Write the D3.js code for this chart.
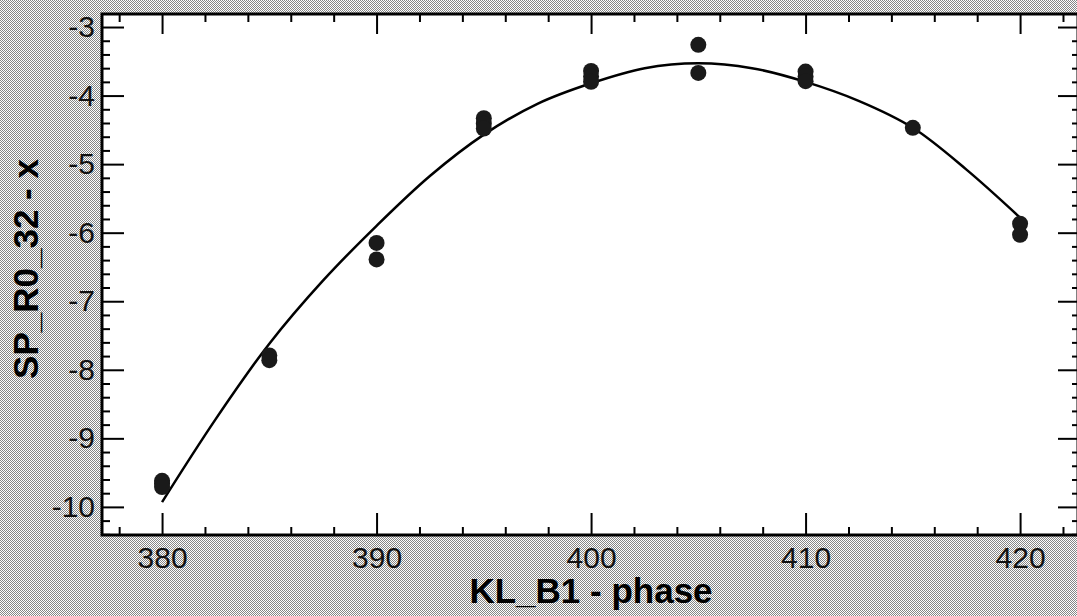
<!DOCTYPE html>
<html>
<head>
<meta charset="utf-8">
<script src="https://cdn.jsdelivr.net/npm/d3@7/dist/d3.min.js"></script>
<style>
  html, body { margin: 0; padding: 0; background: #fff; }
  svg { display: block; }
</style>
</head>
<body>
<div class="chart"></div>
<script>
// measured points (phase, x)
const pointPhase = [380, 380, 380, 385, 385, 390, 390, 395, 395, 395,
                    400, 400, 400, 405, 405, 410, 410, 410, 415, 420, 420];
const pointValue = [-9.62, -9.66, -9.71, -7.79, -7.86, -6.15, -6.39, -4.33, -4.41, -4.48,
                    -3.64, -3.72, -3.80, -3.26, -3.67, -3.65, -3.72, -3.79, -4.47, -5.87, -6.03];

// fit curve
const fitPhase = [380, 382.5, 385, 387.5, 390, 392.5, 395, 397.5, 400,
                  402.5, 405, 407.5, 410, 412.5, 415, 417.5, 420];
const fitValue = [-9.93, -8.72, -7.62, -6.70, -5.90, -5.17, -4.57, -4.12, -3.82,
                  -3.60, -3.53, -3.60, -3.80, -4.08, -4.47, -5.08, -5.78];

const xTicks = [380, 390, 400, 410, 420];
const xMinor = [378, 382, 384, 386, 388, 392, 394, 396, 398, 402, 404, 406, 408, 412, 414, 416, 418, 422];
const yTicks = [-10, -9, -8, -7, -6, -5, -4, -3];

const xTitle = 'KL_B1 - phase';
const yTitle = 'SP_R0_32 - x';

function makeChart() {
  const width = 1077;
  const height = 616;
  const plot = { left: 102, top: 14, right: 1078, bottom: 535 };

  const svg = d3.select('.chart').append('svg')
    .attr('width', width)
    .attr('height', height);

  // dithered grey backdrop
  const pat = svg.append('defs').append('pattern')
    .attr('id', 'dither')
    .attr('width', 2).attr('height', 2)
    .attr('patternUnits', 'userSpaceOnUse');
  pat.append('rect').attr('width', 2).attr('height', 2).attr('fill', '#ffffff');
  pat.append('rect').attr('x', 0).attr('y', 0).attr('width', 1).attr('height', 1).attr('fill', '#868686');
  pat.append('rect').attr('x', 1).attr('y', 1).attr('width', 1).attr('height', 1).attr('fill', '#868686');

  svg.append('rect')
    .attr('width', width).attr('height', height)
    .attr('fill', 'url(#dither)')
    .attr('shape-rendering', 'crispEdges');

  svg.append('rect')
    .attr('x', plot.left).attr('y', plot.top)
    .attr('width', plot.right - plot.left).attr('height', plot.bottom - plot.top)
    .attr('fill', '#fff');

  const x = d3.scaleLinear().domain([377.2, 422.7]).range([plot.left, plot.right]);
  const y = d3.scaleLinear().domain([-10.41, -2.81]).range([plot.bottom, plot.top]);

  // minor y ticks every 0.2
  const yMinor = d3.range(-10.4, -2.8, 0.2).map(v => +v.toFixed(1)).filter(v => !yTicks.includes(v));

  function styleAxis(g) {
    g.select('.domain').remove();
    g.selectAll('line').attr('stroke', '#000').attr('stroke-width', 2);
    g.selectAll('text')
      .attr('fill', '#111')
      .style('font-family', '"Liberation Sans", Arial, sans-serif')
      .style('font-size', '30px');
  }

  // bottom
  svg.append('g').attr('transform', `translate(0,${plot.bottom})`)
    .call(d3.axisBottom(x).tickValues(xTicks).tickSize(-22).tickPadding(12).tickFormat(d3.format('d')))
    .call(styleAxis);
  svg.append('g').attr('transform', `translate(0,${plot.bottom})`)
    .call(d3.axisBottom(x).tickValues(xMinor).tickSize(-8).tickFormat(''))
    .call(styleAxis);
  // top
  svg.append('g').attr('transform', `translate(0,${plot.top})`)
    .call(d3.axisTop(x).tickValues(xTicks).tickSize(-20).tickFormat(''))
    .call(styleAxis);
  svg.append('g').attr('transform', `translate(0,${plot.top})`)
    .call(d3.axisTop(x).tickValues(xMinor).tickSize(-8).tickFormat(''))
    .call(styleAxis);
  // left
  svg.append('g').attr('transform', `translate(${plot.left},0)`)
    .call(d3.axisLeft(y).tickValues(yTicks).tickSize(-22).tickPadding(7).tickFormat(d => d3.format('d')(d).replace('\u2212', '-')))
    .call(styleAxis);
  svg.append('g').attr('transform', `translate(${plot.left},0)`)
    .call(d3.axisLeft(y).tickValues(yMinor).tickSize(-8).tickFormat(''))
    .call(styleAxis);
  // right
  svg.append('g').attr('transform', `translate(${plot.right},0)`)
    .call(d3.axisRight(y).tickValues(yTicks).tickSize(-20).tickFormat(''))
    .call(styleAxis);
  svg.append('g').attr('transform', `translate(${plot.right},0)`)
    .call(d3.axisRight(y).tickValues(yMinor).tickSize(-6).tickFormat(''))
    .call(styleAxis);

  // frame
  svg.append('rect')
    .attr('x', plot.left).attr('y', plot.top)
    .attr('width', plot.right - plot.left).attr('height', plot.bottom - plot.top)
    .attr('fill', 'none').attr('stroke', '#000').attr('stroke-width', 3);

  // fit line
  const line = d3.line()
    .x((d, i) => x(fitPhase[i]))
    .y(d => y(d))
    .curve(d3.curveCatmullRom);
  svg.append('path')
    .datum(fitValue)
    .attr('d', line)
    .attr('fill', 'none')
    .attr('stroke', '#000')
    .attr('stroke-width', 2.5);

  // points
  svg.selectAll('circle.pt')
    .data(pointValue)
    .enter()
    .append('circle')
    .attr('class', 'pt')
    .attr('cx', (d, i) => x(pointPhase[i]))
    .attr('cy', d => y(d))
    .attr('r', 8)
    .attr('fill', '#1a1a1a');

  // titles
  svg.append('text')
    .attr('x', 591).attr('y', 603)
    .attr('text-anchor', 'middle')
    .style('font-family', '"Liberation Sans", Arial, sans-serif')
    .style('font-weight', 'bold')
    .style('font-size', '35px')
    .text(xTitle);

  svg.append('text')
    .attr('transform', 'translate(38,269) rotate(-90)')
    .attr('text-anchor', 'middle')
    .style('font-family', '"Liberation Sans", Arial, sans-serif')
    .style('font-weight', 'bold')
    .style('font-size', '35px')
    .text(yTitle);
}

makeChart();
</script>
</body>
</html>
